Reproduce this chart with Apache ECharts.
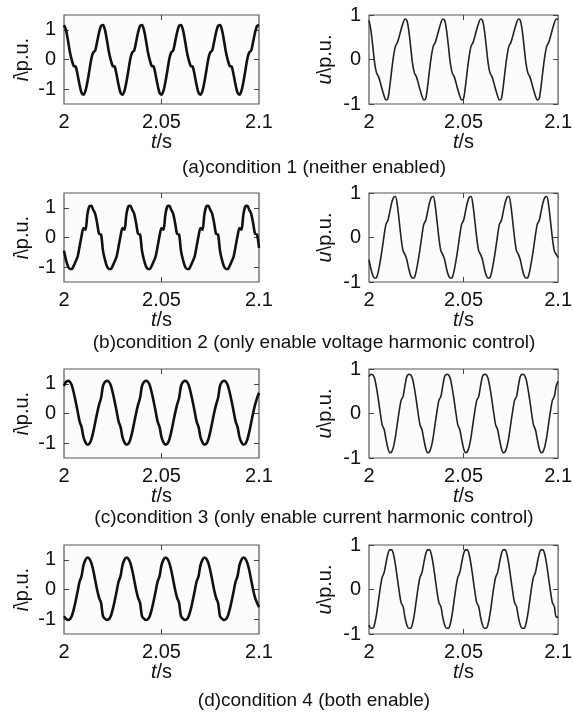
<!DOCTYPE html>
<html>
<head>
<meta charset="utf-8">
<script src="https://cdn.jsdelivr.net/npm/echarts@6/dist/echarts.min.js"></script>
<style>html,body{margin:0;padding:0;background:#fff}#main{width:575px;height:713px}</style>
</head>
<body>
<div id="main"></div>
<script>
// sample times, 1 ms step
var times = [
  2.000,2.001,2.002,2.003,2.004,2.005,2.006,2.007,2.008,2.009,
  2.010,2.011,2.012,2.013,2.014,2.015,2.016,2.017,2.018,2.019,
  2.020,2.021,2.022,2.023,2.024,2.025,2.026,2.027,2.028,2.029,
  2.030,2.031,2.032,2.033,2.034,2.035,2.036,2.037,2.038,2.039,
  2.040,2.041,2.042,2.043,2.044,2.045,2.046,2.047,2.048,2.049,
  2.050,2.051,2.052,2.053,2.054,2.055,2.056,2.057,2.058,2.059,
  2.060,2.061,2.062,2.063,2.064,2.065,2.066,2.067,2.068,2.069,
  2.070,2.071,2.072,2.073,2.074,2.075,2.076,2.077,2.078,2.079,
  2.080,2.081,2.082,2.083,2.084,2.085,2.086,2.087,2.088,2.089,
  2.090,2.091,2.092,2.093,2.094,2.095,2.096,2.097,2.098,2.099,
  2.100
];

// (a) neither enabled
var iCond1 = [
  1.16,1.00,0.66,0.26,-0.02,-0.22,-0.24,-0.52,-0.86,-1.12,-1.19,-1.06,-0.76,-0.38,0.02,0.24,0.30,0.60,0.92,1.13,
  1.16,1.00,0.66,0.26,-0.02,-0.22,-0.24,-0.52,-0.86,-1.12,-1.19,-1.06,-0.76,-0.38,0.02,0.24,0.30,0.60,0.92,1.13,
  1.16,1.00,0.66,0.26,-0.02,-0.22,-0.24,-0.52,-0.86,-1.12,-1.19,-1.06,-0.76,-0.38,0.02,0.24,0.30,0.60,0.92,1.13,
  1.16,1.00,0.66,0.26,-0.02,-0.22,-0.24,-0.52,-0.86,-1.12,-1.19,-1.06,-0.76,-0.38,0.02,0.24,0.30,0.60,0.92,1.13,
  1.16,1.00,0.66,0.26,-0.02,-0.22,-0.24,-0.52,-0.86,-1.12,-1.19,-1.06,-0.76,-0.38,0.02,0.24,0.30,0.60,0.92,1.13,
  1.16
];
var uCond1 = [
  0.88,0.66,0.30,-0.08,-0.30,-0.38,-0.52,-0.68,-0.82,-0.91,-0.88,-0.60,-0.24,0.08,0.30,0.38,0.52,0.68,0.82,0.91,
  0.88,0.66,0.30,-0.08,-0.30,-0.38,-0.52,-0.68,-0.82,-0.91,-0.88,-0.60,-0.24,0.08,0.30,0.38,0.52,0.68,0.82,0.91,
  0.88,0.66,0.30,-0.08,-0.30,-0.38,-0.52,-0.68,-0.82,-0.91,-0.88,-0.60,-0.24,0.08,0.30,0.38,0.52,0.68,0.82,0.91,
  0.88,0.66,0.30,-0.08,-0.30,-0.38,-0.52,-0.68,-0.82,-0.91,-0.88,-0.60,-0.24,0.08,0.30,0.38,0.52,0.68,0.82,0.91,
  0.88,0.66,0.30,-0.08,-0.30,-0.38,-0.52,-0.68,-0.82,-0.91,-0.88,-0.60,-0.24,0.08,0.30,0.38,0.52,0.68,0.82,0.91,
  0.90
];

// (b) only voltage harmonic control
var iCond2 = [
  -0.45,-0.75,-0.97,-1.06,-1.06,-0.95,-0.80,-0.64,-0.30,0.05,0.32,0.26,0.78,1.05,1.07,0.93,0.80,0.48,0.12,0.10,
  -0.45,-0.75,-0.97,-1.06,-1.06,-0.95,-0.80,-0.64,-0.30,0.05,0.32,0.26,0.78,1.05,1.07,0.93,0.80,0.48,0.12,0.10,
  -0.45,-0.75,-0.97,-1.06,-1.06,-0.95,-0.80,-0.64,-0.30,0.05,0.32,0.26,0.78,1.05,1.07,0.93,0.80,0.48,0.12,0.10,
  -0.45,-0.75,-0.97,-1.06,-1.06,-0.95,-0.80,-0.64,-0.30,0.05,0.32,0.26,0.78,1.05,1.07,0.93,0.80,0.48,0.12,0.10,
  -0.45,-0.75,-0.97,-1.06,-1.06,-0.95,-0.80,-0.64,-0.30,0.05,0.32,0.26,0.78,1.05,1.07,0.93,0.80,0.48,0.12,0.10,
  -0.35
];
var uCond2 = [
  -0.50,-0.70,-0.85,-0.91,-0.90,-0.75,-0.52,-0.25,0.05,0.30,0.38,0.58,0.78,0.90,0.92,0.72,0.36,-0.02,-0.30,-0.38,
  -0.50,-0.70,-0.85,-0.91,-0.90,-0.75,-0.52,-0.25,0.05,0.30,0.38,0.58,0.78,0.90,0.92,0.72,0.36,-0.02,-0.30,-0.38,
  -0.50,-0.70,-0.85,-0.91,-0.90,-0.75,-0.52,-0.25,0.05,0.30,0.38,0.58,0.78,0.90,0.92,0.72,0.36,-0.02,-0.30,-0.38,
  -0.50,-0.70,-0.85,-0.91,-0.90,-0.75,-0.52,-0.25,0.05,0.30,0.38,0.58,0.78,0.90,0.92,0.72,0.36,-0.02,-0.30,-0.38,
  -0.50,-0.70,-0.85,-0.91,-0.90,-0.75,-0.52,-0.25,0.05,0.30,0.38,0.58,0.78,0.90,0.92,0.72,0.36,-0.02,-0.30,-0.38,
  -0.45
];

// (c) only current harmonic control
var iCond3 = [
  0.93,1.06,1.10,1.07,0.95,0.70,0.40,0.07,-0.27,-0.45,-0.80,-0.97,-1.05,-1.02,-0.88,-0.62,-0.30,0.02,0.30,0.52,
  0.93,1.06,1.10,1.07,0.95,0.70,0.40,0.07,-0.27,-0.45,-0.80,-0.97,-1.05,-1.02,-0.88,-0.62,-0.30,0.02,0.30,0.52,
  0.93,1.06,1.10,1.07,0.95,0.70,0.40,0.07,-0.27,-0.45,-0.80,-0.97,-1.05,-1.02,-0.88,-0.62,-0.30,0.02,0.30,0.52,
  0.93,1.06,1.10,1.07,0.95,0.70,0.40,0.07,-0.27,-0.45,-0.80,-0.97,-1.05,-1.02,-0.88,-0.62,-0.30,0.02,0.30,0.52,
  0.93,1.06,1.10,1.07,0.95,0.70,0.40,0.07,-0.27,-0.45,-0.80,-0.97,-1.05,-1.02,-0.88,-0.62,-0.30,0.02,0.30,0.52,
  0.70
];
var uCond3 = [
  0.83,0.88,0.87,0.78,0.57,0.30,0.00,-0.26,-0.36,-0.58,-0.78,-0.88,-0.86,-0.74,-0.52,-0.22,0.06,0.30,0.38,0.62,
  0.83,0.88,0.87,0.78,0.57,0.30,0.00,-0.26,-0.36,-0.58,-0.78,-0.88,-0.86,-0.74,-0.52,-0.22,0.06,0.30,0.38,0.62,
  0.83,0.88,0.87,0.78,0.57,0.30,0.00,-0.26,-0.36,-0.58,-0.78,-0.88,-0.86,-0.74,-0.52,-0.22,0.06,0.30,0.38,0.62,
  0.83,0.88,0.87,0.78,0.57,0.30,0.00,-0.26,-0.36,-0.58,-0.78,-0.88,-0.86,-0.74,-0.52,-0.22,0.06,0.30,0.38,0.62,
  0.83,0.88,0.87,0.78,0.57,0.30,0.00,-0.26,-0.36,-0.58,-0.78,-0.88,-0.86,-0.74,-0.52,-0.22,0.06,0.30,0.38,0.62,
  0.72
];

// (d) both enabled
var iCond4 = [
  -0.90,-0.98,-1.03,-1.00,-0.89,-0.67,-0.38,-0.06,0.27,0.45,0.82,1.00,1.08,1.04,0.90,0.65,0.32,-0.02,-0.28,-0.45,
  -0.90,-0.98,-1.03,-1.00,-0.89,-0.67,-0.38,-0.06,0.27,0.45,0.82,1.00,1.08,1.04,0.90,0.65,0.32,-0.02,-0.28,-0.45,
  -0.90,-0.98,-1.03,-1.00,-0.89,-0.67,-0.38,-0.06,0.27,0.45,0.82,1.00,1.08,1.04,0.90,0.65,0.32,-0.02,-0.28,-0.45,
  -0.90,-0.98,-1.03,-1.00,-0.89,-0.67,-0.38,-0.06,0.27,0.45,0.82,1.00,1.08,1.04,0.90,0.65,0.32,-0.02,-0.28,-0.45,
  -0.90,-0.98,-1.03,-1.00,-0.89,-0.67,-0.38,-0.06,0.27,0.45,0.82,1.00,1.08,1.04,0.90,0.65,0.32,-0.02,-0.28,-0.45,
  -0.60
];
var uCond4 = [
  -0.80,-0.87,-0.87,-0.77,-0.55,-0.25,0.05,0.28,0.38,0.60,0.80,0.89,0.89,0.78,0.55,0.25,-0.05,-0.30,-0.38,-0.62,
  -0.80,-0.87,-0.87,-0.77,-0.55,-0.25,0.05,0.28,0.38,0.60,0.80,0.89,0.89,0.78,0.55,0.25,-0.05,-0.30,-0.38,-0.62,
  -0.80,-0.87,-0.87,-0.77,-0.55,-0.25,0.05,0.28,0.38,0.60,0.80,0.89,0.89,0.78,0.55,0.25,-0.05,-0.30,-0.38,-0.62,
  -0.80,-0.87,-0.87,-0.77,-0.55,-0.25,0.05,0.28,0.38,0.60,0.80,0.89,0.89,0.78,0.55,0.25,-0.05,-0.30,-0.38,-0.62,
  -0.80,-0.87,-0.87,-0.77,-0.55,-0.25,0.05,0.28,0.38,0.60,0.80,0.89,0.89,0.78,0.55,0.25,-0.05,-0.30,-0.38,-0.62,
  -0.62
];

var xTickLabels = [2, 2.05, 2.1];
var yTickLabels = [-1, 0, 1];
var captions = [
  '(a)condition 1 (neither enabled)',
  '(b)condition 2 (only enable voltage harmonic control)',
  '(c)condition 3 (only enable current harmonic control)',
  '(d)condition 4 (both enable)'
];
var currentSeries = [iCond1, iCond2, iCond3, iCond4];
var voltageSeries = [uCond1, uCond2, uCond3, uCond4];

var FONT = "'Liberation Sans', Arial, sans-serif";
var rowTop = [15, 193, 369, 545];
var capY = [168, 343, 518, 701];

var chart = echarts.init(document.getElementById('main'));
var grids = [], xAxes = [], yAxes = [], series = [], graphics = [];

function pairs(vals) {
    var out = [];
    for (var i = 0; i < times.length; i++) out.push([times[i], vals[i]]);
    return out;
}

function addPanel(top, left, width, lim, data, isCurrent) {
    var g = grids.length;
    grids.push({
        left: left, top: top, width: width, height: 89,
        show: true, borderColor: '#555', borderWidth: 1.2, backgroundColor: '#fcfcfc'
    });
    var tickStyle = {color: '#444', width: 1};
    var nameStyle = {
        fontSize: 20, color: '#111', fontFamily: FONT,
        rich: {it: {fontStyle: 'italic', fontSize: 20, color: '#111', fontFamily: FONT}}
    };
    // bottom / top x axes
    xAxes.push({
        gridIndex: g, type: 'value', min: 2, max: 2.1, position: 'bottom',
        axisLine: {show: false, onZero: false},
        axisTick: {show: true, inside: true, length: 5, customValues: [2.05], lineStyle: tickStyle},
        axisLabel: {
            customValues: xTickLabels, margin: 8, fontSize: 20, color: '#111', fontFamily: FONT,
            formatter: function (v) { return String(parseFloat(v.toFixed(2))); }
        },
        splitLine: {show: false},
        name: '{it|t}/s', nameLocation: 'middle', nameGap: 28, nameTextStyle: nameStyle
    });
    xAxes.push({
        gridIndex: g, type: 'value', min: 2, max: 2.1, position: 'top',
        axisLine: {show: false, onZero: false},
        axisTick: {show: true, inside: true, length: 5, customValues: [2.05], lineStyle: tickStyle},
        axisLabel: {show: false}, splitLine: {show: false}
    });
    // left / right y axes
    yAxes.push({
        gridIndex: g, type: 'value', min: -lim, max: lim, position: 'left',
        axisLine: {show: false, onZero: false},
        axisTick: {show: true, inside: true, length: 5, customValues: yTickLabels, lineStyle: tickStyle},
        axisLabel: {customValues: yTickLabels, margin: 8, fontSize: 20, color: '#111', fontFamily: FONT},
        splitLine: {show: false},
        name: isCurrent ? '{it|i}\\p.u.' : '{it|u}\\p.u.',
        nameLocation: 'middle', nameGap: isCurrent ? 32 : 34, nameTextStyle: nameStyle
    });
    yAxes.push({
        gridIndex: g, type: 'value', min: -lim, max: lim, position: 'right',
        axisLine: {show: false, onZero: false},
        axisTick: {show: true, inside: true, length: 5, customValues: yTickLabels, lineStyle: tickStyle},
        axisLabel: {show: false}, splitLine: {show: false}
    });
    series.push({
        type: 'line', xAxisIndex: 2 * g, yAxisIndex: 2 * g,
        data: pairs(data), showSymbol: false, symbol: 'none', smooth: 0.3,
        lineStyle: {color: isCurrent ? '#111' : '#222', width: isCurrent ? 2.6 : 1.6},
        animation: false
    });
}

for (var r = 0; r < 4; r++) {
    addPanel(rowTop[r], 64, 195, 1.5, currentSeries[r], true);
    addPanel(rowTop[r], 369, 194, 1, voltageSeries[r], false);
    graphics.push({
        type: 'text', x: 314, y: capY[r],
        style: {text: captions[r], align: 'center', verticalAlign: 'middle',
                font: '19px ' + FONT, fill: '#111'}
    });
}

chart.setOption({
    backgroundColor: '#fff',
    animation: false,
    grid: grids,
    xAxis: xAxes,
    yAxis: yAxes,
    series: series,
    graphic: graphics
});
</script>
</body>
</html>
